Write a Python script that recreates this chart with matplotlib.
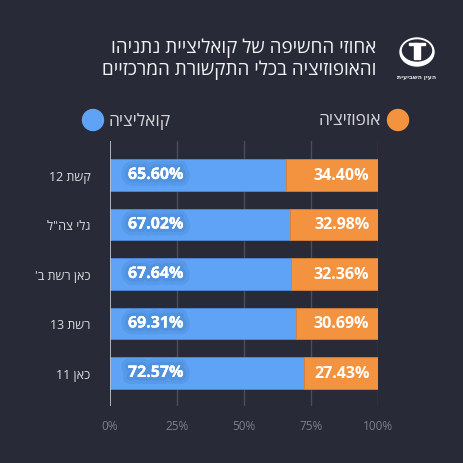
import matplotlib
matplotlib.use('Agg')
import matplotlib.pyplot as plt
import matplotlib.patheffects as pe
from matplotlib.patches import Ellipse, Circle, Rectangle
import re

# Data
channels = ['קשת 12', 'גלי צה"ל', "כאן רשת ב'", 'רשת 13', 'כאן 11']
coalition = [65.60, 67.02, 67.64, 69.31, 72.57]
opposition = [34.40, 32.98, 32.36, 30.69, 27.43]
x_ticks = [0, 25, 50, 75, 100]
x_tick_labels = ['0%', '25%', '50%', '75%', '100%']
title_lines = ['אחוזי החשיפה של קואליציית נתניהו', 'והאופוזיציה בכלי התקשורת המרכזיים']
legend_coal = 'קואליציה'
legend_opp = 'אופוזיציה'
logo_text = 'העין השביעית'

BG = '#282a37'
BLUE = '#5ea3f5'
ORANGE = '#f39340'
W = H = 464
FONT = ['Open Sans', 'DejaVu Sans']


def rtl(s):
    """Reverse Hebrew text for display, keeping digit runs in order."""
    rev = s[::-1]
    return re.sub(r'[0-9.]+', lambda m: m.group(0)[::-1], rev)


def px(x, y):
    return x / W, 1 - y / H


fig = plt.figure(figsize=(4.64, 4.64), dpi=100, facecolor=BG)

# Main axes: 0% at x=110, 100% at x=378, grid from y=142 to y=407
left, top = px(110, 142)
right, bottom = px(378, 407)
ax = fig.add_axes([left, bottom, right - left, top - bottom])
ax.set_facecolor(BG)
ax.patch.set_alpha(0)

ypos = list(range(len(channels)))
ax.barh(ypos, coalition, height=0.646, color=BLUE, edgecolor='#4f8bd4', linewidth=0.6, zorder=2)
ax.barh(ypos, opposition, left=coalition, height=0.646, color=ORANGE, edgecolor='#d98135',
        linewidth=0.6, zorder=2)

for x in x_ticks[1:]:
    ax.axvline(x, color='#4b4d5b', linewidth=1, zorder=1)
ax.axvline(0, color='#c9c9cf', linewidth=1.2, zorder=3)

shadow = [pe.withStroke(linewidth=10, foreground='#2c5a96', alpha=0.12),
          pe.withStroke(linewidth=5, foreground='#2c5a96', alpha=0.12), pe.Normal()]
for i in ypos:
    ax.text(6.7, i, f'{coalition[i]:.2f}%', color='white', fontsize=11.5, fontweight='bold',
            va='center', ha='left', family=FONT, zorder=4, path_effects=shadow)
    ax.text(96.8, i, f'{opposition[i]:.2f}%', color='white', fontsize=11.5, fontweight='bold',
            va='center', ha='right', family=FONT, zorder=4)

ax.set_xlim(0, 100)
ax.set_ylim(4.667, -0.687)
ax.set_xticks(x_ticks)
ax.set_xticklabels(x_tick_labels, color='#7d808c', fontsize=8.5, family=FONT)
ax.set_yticks(ypos)
ax.set_yticklabels([rtl(c) for c in channels], color='#dcdce0', fontsize=9, family=FONT)
ax.tick_params(axis='x', length=0, pad=9)
ax.tick_params(axis='y', length=0, pad=14)
for s in ax.spines.values():
    s.set_visible(False)

# Title
for k, line in enumerate(title_lines):
    fig.text(*px(376, 48 + 22 * k), rtl(line), color='#f2f2f4', fontsize=13.6, ha='right', va='center',
             family=FONT)

# Legend
lax = fig.add_axes([0, 0, 1, 1])
lax.set_xlim(0, W)
lax.set_ylim(H, 0)
lax.axis('off')
lax.patch.set_alpha(0)
lax.add_patch(Circle((398, 121), 10.5, color=ORANGE))
lax.add_patch(Circle((93, 121), 10.5, color=BLUE))
lax.text(381, 121, rtl(legend_opp), color='#d6d6da', fontsize=12.5, ha='right', va='center', family=FONT)
lax.text(109, 121, rtl(legend_coal), color='#d6d6da', fontsize=12.5, ha='left', va='center', family=FONT)

# Logo
lax.add_patch(Ellipse((417, 53), 34, 28, color='white'))
lax.add_patch(Ellipse((417, 51.5), 29, 21, color=BG))
lax.add_patch(Rectangle((409, 44), 16, 2, color='white'))
lax.add_patch(Rectangle((414.5, 44), 2.2, 16, color='white'))
lax.add_patch(Rectangle((418.3, 45.5), 1.3, 14.5, color='white'))
lax.text(417, 78, rtl(logo_text), color='#e0e0e0', fontsize=4.5, ha='center', va='center',
         family=FONT, fontweight='bold')

fig.savefig('out.png', dpi=100, facecolor=BG)
